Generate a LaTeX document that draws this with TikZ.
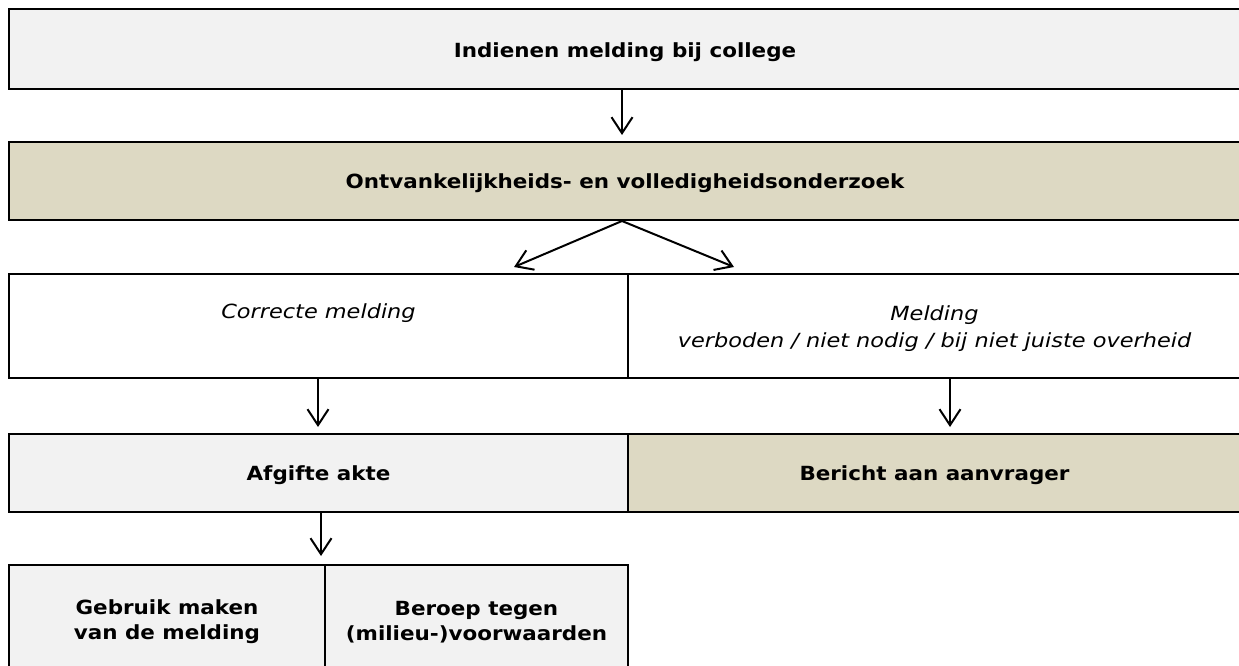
\documentclass[tikz,border=0pt]{standalone}
\usepackage{fontspec}
\setmainfont{DejaVu Sans}[BoldFeatures={FakeStretch=1.1},ItalicFeatures={FakeStretch=1.15}]
\usetikzlibrary{arrows.meta,calc}
\definecolor{lgray}{HTML}{F2F2F2}
\definecolor{tanfill}{HTML}{DDD9C3}
\begin{document}
\begin{tikzpicture}[x=1pt,y=-1pt,
  box/.style={draw=black, line width=2pt, rectangle, inner sep=0pt, align=center,
    text height=20pt, font=\fontsize{19.5}{25}\selectfont\bfseries},
  twoline/.style={text height=45pt},
  ibox/.style={box, text height=47pt, font=\fontsize{19.5}{27}\selectfont\itshape},
  arr/.style={line width=2pt, -{Straight Barb[length=16pt,width=21pt]}, shorten >=6pt}]
\useasboundingbox (0,0) rectangle (1239,666);
% row 1
\node[box, fill=lgray, minimum width=1232pt, minimum height=80pt, text height=21pt] (b1) at (625,49) {Indienen melding bij college};
% row 2
\node[box, fill=tanfill, minimum width=1232pt, minimum height=78pt] (b2) at (625,181) {Ontvankelijkheids- en volledigheidsonderzoek};
% row 3
\node[ibox, fill=white, minimum width=619pt, minimum height=104pt] (c3l) at (318.5,326) {Correcte melding\\ \strut};
\node[ibox, fill=white, minimum width=613pt, minimum height=104pt] (c3r) at (934.5,326) {Melding\\verboden / niet nodig / bij niet juiste overheid};
% row 4
\node[box, fill=lgray, minimum width=619pt, minimum height=78pt] (c4l) at (318.5,473) {Afgifte akte};
\node[box, fill=tanfill, minimum width=613pt, minimum height=78pt] (c4r) at (934.5,473) {Bericht aan aanvrager};
% row 5
\node[box, twoline, fill=lgray, minimum width=316pt, minimum height=109pt] (c5l) at (167,619.5) {Gebruik maken\\van de melding};
\node[box, twoline, fill=lgray, minimum width=303pt, minimum height=109pt] (c5r) at (476.5,619.5) {Beroep tegen\\(milieu-)voorwaarden};
% arrow x positions
\coordinate (xa) at (622,0);
\coordinate (xl) at (318,0);
\coordinate (xr) at (950,0);
\coordinate (xb) at (321,0);
\coordinate (tl) at ($(c3l.north east)+(-115,-6)$);
\coordinate (tr) at ($(c3r.north west)+(107,-6)$);
% connectors
\draw[arr] (b1.south -| xa) -- (b2.north -| xa);
\draw[arr, shorten >=0pt] (b2.south -| xa) -- (tl);
\draw[arr, shorten >=0pt] (b2.south -| xa) -- (tr);
\draw[arr] (c3l.south -| xl) -- (c4l.north -| xl);
\draw[arr] (c3r.south -| xr) -- (c4r.north -| xr);
\draw[arr, shorten >=8pt] (c4l.south -| xb) -- (c5l.north -| xb);
\end{tikzpicture}
\end{document}
